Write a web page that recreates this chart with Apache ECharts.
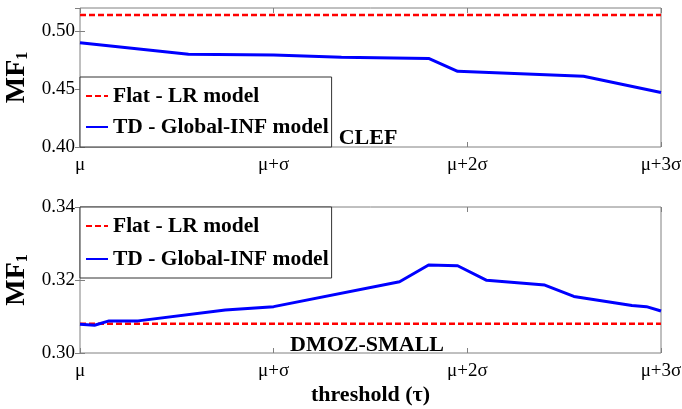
<!DOCTYPE html>
<html>
<head>
<meta charset="utf-8">
<script src="https://cdn.jsdelivr.net/npm/echarts@6/dist/echarts.min.js"></script>
<style>
  html, body { margin: 0; padding: 0; background: #fff; }
  #chart { width: 682px; height: 409px; }
</style>
</head>
<body>
<div id="chart"></div>
<script>
// Threshold tick labels (multiples of sigma above the mean)
const thresholdTicks = ['μ', 'μ+σ', 'μ+2σ', 'μ+3σ'];

// CLEF panel
const clefThreshold = [0, 0.56, 1.0, 1.35, 1.8, 1.95, 2.6, 3.0];
const clefTD = [0.490, 0.480, 0.4794, 0.4775, 0.4765, 0.4653, 0.4611, 0.447];
const clefFlatThreshold = [0, 3];
const clefFlat = [0.514, 0.514];

// DMOZ-SMALL panel
const dmozThreshold = [0, 0.075, 0.15, 0.3, 0.75, 1.0, 1.65, 1.8, 1.95, 2.1, 2.4, 2.55, 2.85, 2.925, 3.0];
const dmozTD = [0.3079, 0.3076, 0.3088, 0.3088, 0.3118, 0.3127, 0.3195, 0.3241, 0.3239, 0.3199, 0.3186, 0.3155, 0.3130, 0.3127, 0.3115];
const dmozFlatThreshold = [0, 3];
const dmozFlat = [0.308, 0.308];

const FLAT_NAME = 'Flat - LR model';
const TD_NAME = 'TD - Global-INF model';
const SERIF = '"Liberation Serif", "Times New Roman", serif';
const FRAME = '#808080';

function pairs(xs, ys) { return xs.map((x, i) => [x, ys[i]]); }

const tickLabel = { fontFamily: SERIF, fontSize: 19, color: '#000' };

function xAxes(gridIndex, withName) {
  const bottom = {
    type: 'value', gridIndex, position: 'bottom', min: 0, max: 3, interval: 1,
    axisLine: { show: false },
    axisTick: { show: true, inside: true, length: 5, lineStyle: { color: FRAME } },
    splitLine: { show: false },
    axisLabel: Object.assign({ margin: 9, formatter: v => thresholdTicks[Math.round(v)] }, tickLabel)
  };
  if (withName) {
    Object.assign(bottom, {
      name: 'threshold (τ)', nameLocation: 'middle', nameGap: 31,
      nameTextStyle: { fontFamily: SERIF, fontWeight: 'bold', fontSize: 22, lineHeight: 22, color: '#000' }
    });
  }
  const top = {
    type: 'value', gridIndex, position: 'top', min: 0, max: 3, interval: 1,
    axisLine: { show: false },
    axisTick: { show: true, inside: true, length: 5, lineStyle: { color: FRAME } },
    splitLine: { show: false }, axisLabel: { show: false }
  };
  return [bottom, top];
}

function yAxes(gridIndex, min, max, interval) {
  const left = {
    type: 'value', gridIndex, position: 'left', min, max, interval,
    axisLine: { show: false },
    axisTick: { show: true, inside: true, length: 5, lineStyle: { color: FRAME } },
    splitLine: { show: false },
    axisLabel: Object.assign({ margin: 5, showMaxLabel: Math.abs(((max - min) / interval) - Math.round((max - min) / interval)) < 1e-6,
      formatter: v => v.toFixed(2) }, tickLabel),
    name: '{m|MF}{s|1}', nameLocation: 'middle', nameRotate: 90, nameGap: 39,
    nameTextStyle: {
      lineHeight: 32,
      rich: {
        m: { fontFamily: SERIF, fontWeight: 'bold', fontSize: 28, lineHeight: 28, verticalAlign: 'top', color: '#000' },
        s: { fontFamily: SERIF, fontWeight: 'bold', fontSize: 16, lineHeight: 16, verticalAlign: 'bottom', color: '#000' }
      }
    }
  };
  const right = {
    type: 'value', gridIndex, position: 'right', min, max, interval,
    axisLine: { show: false },
    axisTick: { show: true, inside: true, length: 5, lineStyle: { color: FRAME } },
    splitLine: { show: false }, axisLabel: { show: false }
  };
  return [left, right];
}

function legendAt(top, gap, padding) {
  return {
    left: 80, top, orient: 'vertical',
    data: [FLAT_NAME, TD_NAME],
    itemWidth: 22, itemHeight: 12, itemGap: gap, padding,
    borderColor: '#333', borderWidth: 1, backgroundColor: '#fff', borderRadius: 0,
    selectedMode: false,
    itemStyle: { opacity: 0 },
    textStyle: { fontFamily: SERIF, fontWeight: 'bold', fontSize: 21.5, lineHeight: 24, color: '#000' }
  };
}

const flatStyle = { color: '#ff0000', width: 2.5, type: [6, 3] };
const tdStyle = { color: '#0000ff', width: 3 };

const gridBase = { left: 80, right: 21, show: true, borderColor: FRAME, borderWidth: 1,
  backgroundColor: 'transparent', containLabel: false, outerBoundsMode: 'none' };

const option = {
  animation: false,
  backgroundColor: '#fff',
  grid: [
    Object.assign({ top: 8, height: 139 }, gridBase),
    Object.assign({ top: 207, height: 146 }, gridBase)
  ],
  xAxis: [...xAxes(0, false), ...xAxes(1, true)],
  yAxis: [...yAxes(0, 0.40, 0.52, 0.05), ...yAxes(1, 0.30, 0.34, 0.02)],
  legend: [legendAt(77, 7, [7, 3, 8, 5]), legendAt(207, 9, [7, 3, 7, 5])],
  series: [
    { name: FLAT_NAME, type: 'line', xAxisIndex: 0, yAxisIndex: 0, symbol: 'none',
      color: '#ff0000', lineStyle: flatStyle, data: pairs(clefFlatThreshold, clefFlat) },
    { name: TD_NAME, type: 'line', xAxisIndex: 0, yAxisIndex: 0, symbol: 'none',
      color: '#0000ff', lineStyle: tdStyle, data: pairs(clefThreshold, clefTD) },
    { name: FLAT_NAME, type: 'line', xAxisIndex: 2, yAxisIndex: 2, symbol: 'none',
      color: '#ff0000', lineStyle: flatStyle, data: pairs(dmozFlatThreshold, dmozFlat) },
    { name: TD_NAME, type: 'line', xAxisIndex: 2, yAxisIndex: 2, symbol: 'none',
      color: '#0000ff', lineStyle: tdStyle, data: pairs(dmozThreshold, dmozTD) }
  ],
  graphic: [
    { type: 'text', x: 368, y: 138, z: 100,
      style: { text: 'CLEF', fill: '#000', font: 'bold 22px "Liberation Serif"', align: 'center', verticalAlign: 'middle' } },
    { type: 'text', x: 367, y: 345, z: 100,
      style: { text: 'DMOZ-SMALL', fill: '#000', font: 'bold 22px "Liberation Serif"', align: 'center', verticalAlign: 'middle' } }
  ]
};

const chart = echarts.init(document.getElementById('chart'), null, { renderer: 'canvas' });
chart.setOption(option);
</script>
</body>
</html>
